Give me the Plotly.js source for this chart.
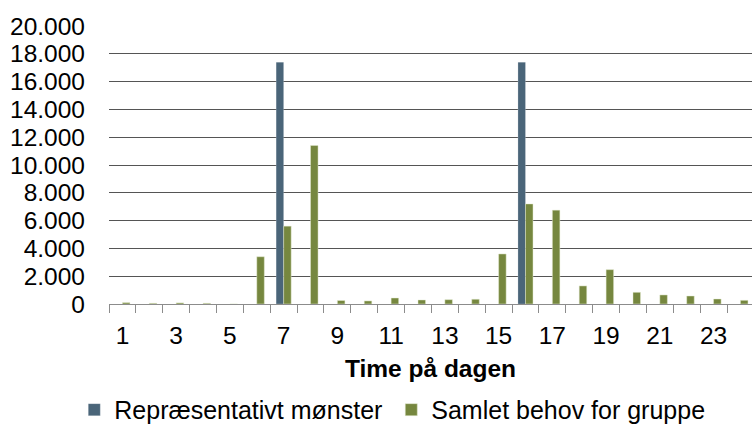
<!DOCTYPE html>
<html><head><meta charset="utf-8">
<script src="https://cdn.plot.ly/plotly-3.0.1.min.js"></script>
<style>html,body{margin:0;padding:0;background:#fff}#chart{width:752px;height:424px}</style>
</head><body><div id="chart"></div>
<script>
const hours = [1,2,3,4,5,6,7,8,9,10,11,12,13,14,15,16,17,18,19,20,21,22,23,24];
const representativt = [0,0,0,0,0,0,17400,0,0,0,0,0,0,0,0,17400,0,0,0,0,0,0,0,0];
const samlet = [100,50,80,50,0,3400,5600,11400,250,220,430,290,310,340,3600,7200,6750,1300,2470,840,650,575,360,265];
const xTickVals = [1,3,5,7,9,11,13,15,17,19,21,23];
const xTickText = ["1","3","5","7","9","11","13","15","17","19","21","23"];
const yTickVals = [0,2000,4000,6000,8000,10000,12000,14000,16000,18000,20000];
const yTickText = ["0","2.000","4.000","6.000","8.000","10.000","12.000","14.000","16.000","18.000","20.000"];
const seriesNames = ["Repræsentativt mønster","Samlet behov for gruppe"];

// tick marks sit on the category boundaries (half-way between hours)
const boundaries = [0].concat(hours).map(h => h + 0.5);

const font = {family:"Liberation Sans, Arial, sans-serif", size:24.5, color:"#000"};
const traces = [
  {type:"bar", x:hours, y:representativt, name:seriesNames[0], xaxis:"x", yaxis:"y",
   marker:{color:"#4a6579", line:{color:"rgba(255,255,255,0.35)", width:0.6}}},
  {type:"bar", x:hours, y:samlet, name:seriesNames[1], xaxis:"x", yaxis:"y",
   marker:{color:"#76873f", line:{color:"rgba(230,236,210,0.8)", width:0.6}}},
  // empty helper trace so the label axis (boundary ticks) is drawn
  {type:"scatter", mode:"markers", x:hours, y:hours.map(() => null), xaxis:"x2", yaxis:"y",
   showlegend:false, hoverinfo:"skip"}
];
const layout = {
  width:752, height:424,
  margin:{l:109, r:0, t:26, b:120, pad:0, autoexpand:false},
  paper_bgcolor:"#fff", plot_bgcolor:"#fff",
  font:font,
  barmode:"group", bargap:0.44, bargroupgap:0,
  showlegend:true,
  legend:{orientation:"h", x:-0.054, xanchor:"left", y:-0.381, yanchor:"middle",
    font:{family:font.family, size:25, color:"#000"}, itemclick:false, traceorder:"normal",
    entrywidth:272, entrywidthmode:"pixels", bgcolor:"rgba(0,0,0,0)"},
  xaxis:{type:"linear", range:[0.5,24.43], tickmode:"array", tickvals:xTickVals, ticktext:xTickText,
    ticks:"", showgrid:false, zeroline:false, showline:true, linecolor:"#8c8c8c", linewidth:1,
    ticklabelstandoff:10, tickfont:{family:font.family, size:24.5, color:"#000"},
    title:{text:"<b>Time på dagen</b>", font:{family:font.family, size:24.5, color:"#000"}, standoff:11}},
  xaxis2:{type:"linear", overlaying:"x", matches:"x", side:"bottom", anchor:"y",
    range:[0.5,24.43], tickmode:"array", tickvals:boundaries,
    ticktext:boundaries.map(() => ""), showticklabels:false,
    ticks:"outside", ticklen:8, tickcolor:"#8c8c8c", tickwidth:1,
    showgrid:false, zeroline:false, showline:false},
  yaxis:{range:[0,20000], tickmode:"array", tickvals:yTickVals, ticktext:yTickText,
    ticks:"", showgrid:true, gridcolor:"#555555", gridwidth:1, zeroline:false, showline:false,
    ticklabelstandoff:23, tickfont:{family:font.family, size:24.5, color:"#000"}}
};
Plotly.newPlot("chart", traces, layout, {displayModeBar:false, staticPlot:true});
</script></body></html>
